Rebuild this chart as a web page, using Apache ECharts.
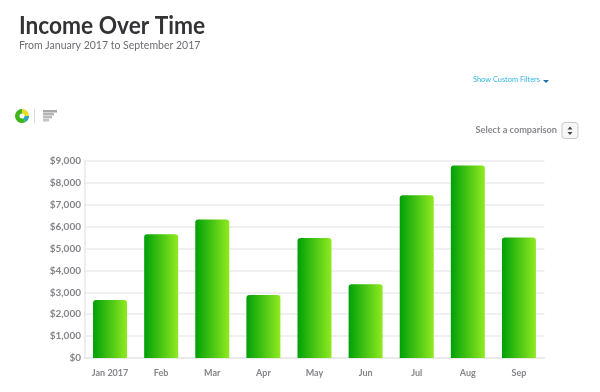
<!DOCTYPE html>
<html><head><meta charset="utf-8">
<style>html,body{margin:0;padding:0;background:#fff}#c{width:600px;height:392px}</style>
<script src="https://cdn.jsdelivr.net/npm/echarts@6/dist/echarts.min.js"></script>
</head><body><div id="c"></div>
<script>
const categories = ['Jan 2017','Feb','Mar','Apr','May','Jun','Jul','Aug','Sep'];
const income = [2650,5650,6330,2880,5480,3370,7430,8800,5510];
const yTicks = {min:0,max:9000,interval:1000};
const titleText = 'Income Over Time';
const subtitleText = 'From January 2017 to September 2017';
const filterText = 'Show Custom Filters';
const comparisonText = 'Select a comparison';
const F = 'Lato';
const chart = echarts.init(document.getElementById('c'),null,{renderer:'canvas'});
const txt=(x,y,text,size,color,weight,align,sx)=>({type:'text',x,y,scaleX:sx||1,style:{text,font:`${weight||400} ${size}px ${F}`,fill:color,textAlign:align||'left',textVerticalAlign:'middle'}});
chart.setOption({
  animation:false,
  backgroundColor:'#fff',
  grid:{left:84.5,right:55.5,top:161,bottom:34,containLabel:false},
  xAxis:{type:'category',data:categories,
    axisLine:{lineStyle:{color:'#e8e8ec',width:1.5}},axisTick:{show:false},
    axisLabel:{interval:0,color:'#85858a',fontFamily:F,fontSize:9,fontWeight:700,margin:10.5}},
  yAxis:{type:'value',...yTicks,
    axisLine:{show:true,lineStyle:{color:'#e8e8ec',width:1.5}},axisTick:{show:false},
    splitLine:{lineStyle:{color:'#ebebef',width:1.5}},
    axisLabel:{color:'#85858a',fontFamily:F,fontSize:10,fontWeight:700,margin:3.5,formatter:v=>'$'+v.toLocaleString('en-US')}},
  series:[{type:'bar',data:income,barWidth:34,
    itemStyle:{borderRadius:[3,3,0,0],color:new echarts.graphic.LinearGradient(0,0,1,0,[{offset:0,color:'#00a008'},{offset:1,color:'#90ea20'}])}}],
  graphic:[
    txt(19,26,titleText,24,'#333336',700,'left',0.945),
    txt(19,46,subtitleText,10.5,'#6e6e73',400),
    txt(473,80,filterText,7.4,'#2fb4e6',400),
    {type:'polygon',shape:{points:[[543,80],[549,80],[546,83]]},style:{fill:'#1f6ea8'}},
    txt(557,130,comparisonText,9.2,'#88888d',700,'right'),
    {type:'rect',shape:{x:562,y:122.5,width:16,height:16,r:3},style:{fill:'#f7f7f7',stroke:'#c8c8c8',lineWidth:1}},
    {type:'polygon',shape:{points:[[567.5,129.5],[572.5,129.5],[570,126.5]]},style:{fill:'#444'}},
    {type:'polygon',shape:{points:[[567.5,132],[572.5,132],[570,135]]},style:{fill:'#444'}},
    {type:'sector',shape:{cx:22,cy:116,r:7,r0:2.5,startAngle:-Math.PI/2,endAngle:0},style:{fill:'#e8dc1e'}},
    {type:'sector',shape:{cx:22,cy:116,r:7,r0:2.5,startAngle:0,endAngle:Math.PI/3},style:{fill:'#28a8b8'}},
    {type:'sector',shape:{cx:22,cy:116,r:7,r0:2.5,startAngle:Math.PI/3,endAngle:Math.PI*1.5},style:{fill:'#3fb51a'}},
    {type:'rect',shape:{x:34,y:109,width:1,height:14},style:{fill:'#dcdcdc'}},
    {type:'rect',shape:{x:43,y:110,width:14,height:2.5},style:{fill:'#a8a8a8'}},
    {type:'rect',shape:{x:43,y:113,width:11,height:2.5},style:{fill:'#b4b4b4'}},
    {type:'rect',shape:{x:43,y:116,width:9,height:2.5},style:{fill:'#bcbcbc'}},
    {type:'rect',shape:{x:43,y:119,width:6,height:2.5},style:{fill:'#c4c4c4'}}
  ]
});
</script></body></html>
